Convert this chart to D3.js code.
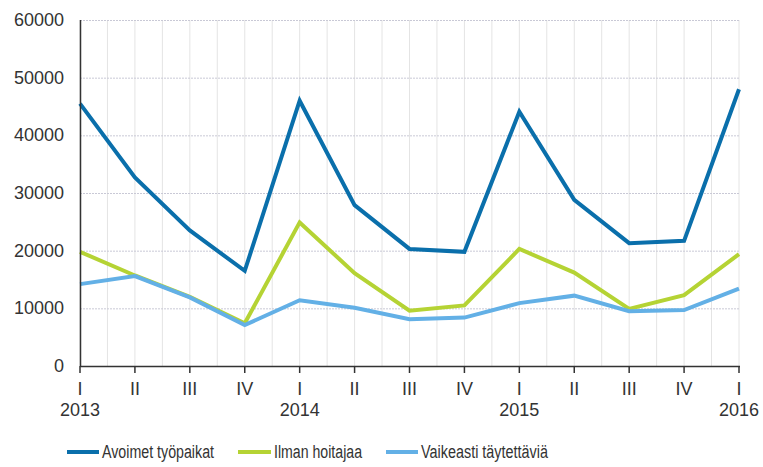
<!DOCTYPE html>
<html>
<head>
<meta charset="utf-8">
<script src="https://cdn.jsdelivr.net/npm/d3@7"></script>
<style>
  html, body { margin: 0; padding: 0; background: #fff; }
  svg { display: block; }
  text { font-family: "Liberation Sans", Arial, sans-serif; fill: #333; }
</style>
</head>
<body>
<svg id="chart" width="763" height="467"></svg>
<script>
const quarters = ["I","II","III","IV","I","II","III","IV","I","II","III","IV","I"];
const years = ["2013","","","","2014","","","","2015","","","","2016"];
const yTicks = [0,10000,20000,30000,40000,50000,60000];
const seriesNames = ["Avoimet työpaikat","Ilman hoitajaa","Vaikeasti täytettäviä"];
const avoimet   = [45500, 32700, 23500, 16500, 46000, 27900, 20300, 19800, 44100, 28800, 21300, 21700, 48000];
const ilman     = [19800, 15700, 12000, 7400, 24900, 16100, 9600, 10500, 20300, 16200, 9900, 12300, 19400];
const vaikeasti = [14200, 15600, 11900, 7100, 11400, 10100, 8100, 8400, 10900, 12200, 9500, 9700, 13400];

const colors = ["#0a6fab", "#b5d334", "#63b0e6"];
const series = [avoimet, ilman, vaikeasti];

const svg = d3.select("#chart");
const pLeft = 80, pRight = 739, pTop = 20, pBottom = 366;
const x = d3.scaleLinear().domain([0, quarters.length - 1]).range([pLeft, pRight]);
const y = d3.scaleLinear().domain([0, 60000]).range([pBottom, pTop]);

// vertical gridlines every half step
const vgrid = d3.range(0, quarters.length - 1 + 0.01, 0.5);
svg.append("g").selectAll("line").data(vgrid).join("line")
  .attr("x1", d => x(d)).attr("x2", d => x(d))
  .attr("y1", pTop).attr("y2", pBottom)
  .attr("stroke", "#e4e4e4").attr("stroke-width", 1);

// horizontal gridlines
svg.append("g").selectAll("line").data(yTicks.filter(d => d > 0)).join("line")
  .attr("x1", pLeft).attr("x2", pRight)
  .attr("y1", d => y(d) + 0.5).attr("y2", d => y(d) + 0.5)
  .attr("stroke", "#c9c9d6").attr("stroke-width", 1).attr("stroke-dasharray", "2,1");

// y labels
svg.append("g").selectAll("text").data(yTicks).join("text")
  .attr("x", 64).attr("y", d => y(d))
  .attr("text-anchor", "end").attr("dominant-baseline", "central")
  .style("font-size", "18px")
  .text(d => d);

// lines
const line = d3.line().x((d, i) => x(i)).y(d => y(d));
series.forEach((s, k) => {
  svg.append("path").datum(s)
    .attr("d", line)
    .attr("fill", "none")
    .attr("stroke", colors[k])
    .attr("stroke-width", 4)
    .attr("stroke-linejoin", "miter");
});

// axes lines
svg.append("line").attr("x1", pLeft + 0.5).attr("x2", pLeft + 0.5).attr("y1", pTop).attr("y2", pBottom)
  .attr("stroke", "#333").attr("stroke-width", 1.5);
svg.append("line").attr("x1", pLeft).attr("x2", pRight + 1).attr("y1", pBottom + 0.5).attr("y2", pBottom + 0.5)
  .attr("stroke", "#333").attr("stroke-width", 1.5);

// x ticks
svg.append("g").selectAll("line").data(quarters).join("line")
  .attr("x1", (d, i) => x(i)).attr("x2", (d, i) => x(i))
  .attr("y1", pBottom).attr("y2", pBottom + 7)
  .attr("stroke", "#333").attr("stroke-width", 1.5);

svg.append("g").selectAll("text").data(quarters).join("text")
  .attr("x", (d, i) => x(i)).attr("y", 389)
  .attr("text-anchor", "middle").attr("dominant-baseline", "central")
  .style("font-size", "18px")
  .text(d => d);

svg.append("g").selectAll("text").data(years).join("text")
  .attr("x", (d, i) => x(i)).attr("y", 410)
  .attr("text-anchor", "middle").attr("dominant-baseline", "central")
  .style("font-size", "18px")
  .text(d => d);

// legend
const legendPos = [{lx: 67, tx: 102, tw: 112}, {lx: 238, tx: 274, tw: 88}, {lx: 386, tx: 421, tw: 127}];
const lg = svg.append("g");
seriesNames.forEach((name, k) => {
  const p = legendPos[k];
  lg.append("line").attr("x1", p.lx).attr("x2", p.tx - 3).attr("y1", 452).attr("y2", 452)
    .attr("stroke", colors[k]).attr("stroke-width", 4);
  lg.append("text").attr("x", p.tx).attr("y", 452)
    .attr("dominant-baseline", "central")
    .attr("textLength", p.tw).attr("lengthAdjust", "spacingAndGlyphs")
    .style("font-size", "18px")
    .text(name);
});
</script>
</body>
</html>
